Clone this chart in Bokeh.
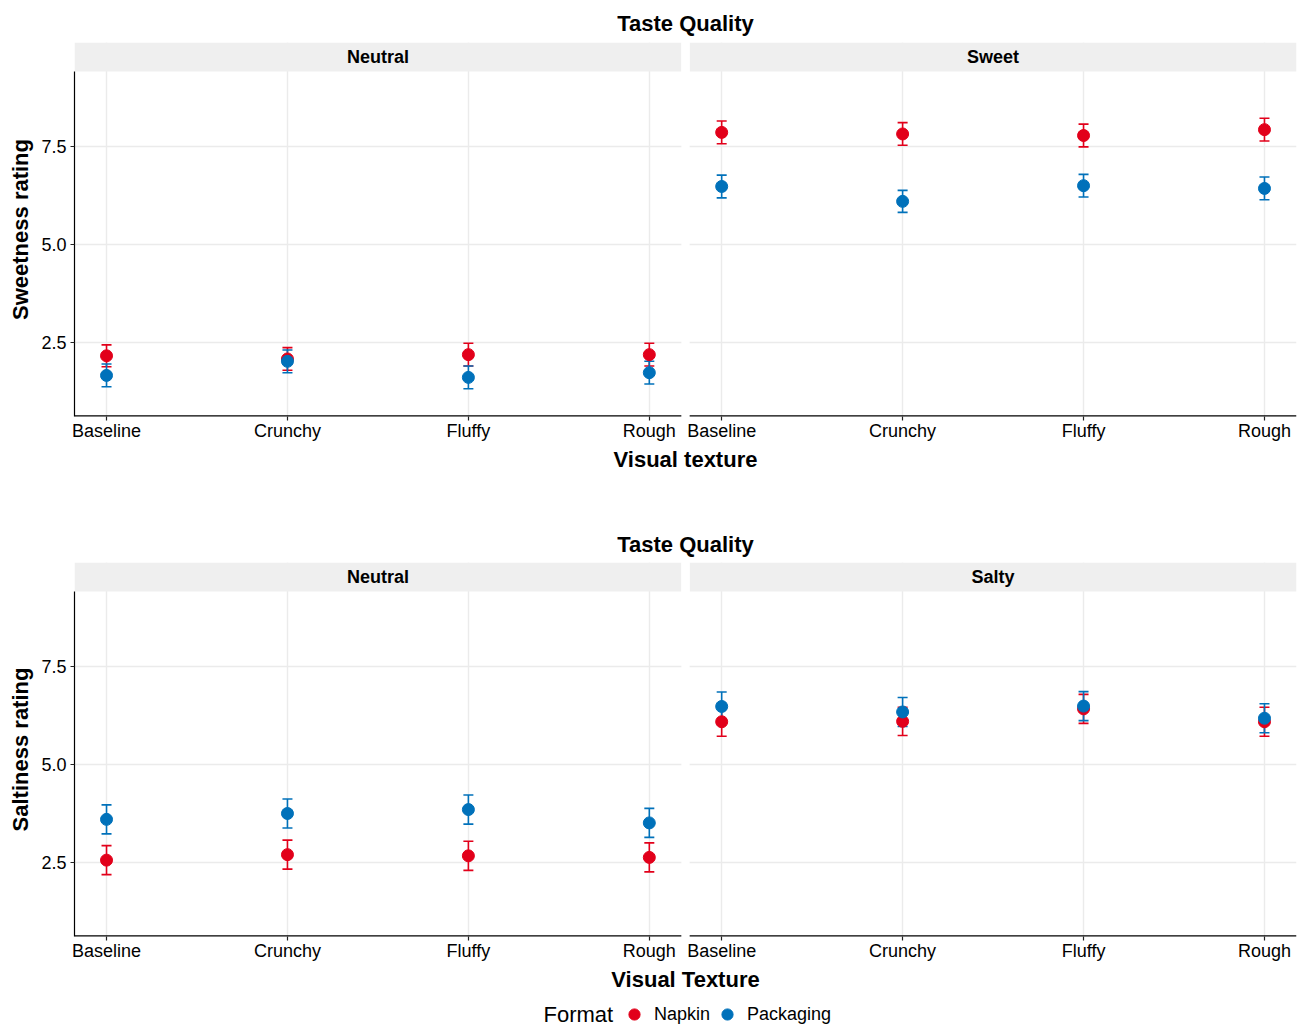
from bokeh.plotting import figure
from bokeh.models import (Range1d, FixedTicker, PrintfTickFormatter, Whisker, TeeHead,
                          ColumnDataSource, Legend, LegendItem)
from bokeh.layouts import column
from bokeh.embed import file_html
from bokeh.resources import INLINE
from bokeh.core.properties import value

# ---------------- data ----------------
textures = ["Baseline", "Crunchy", "Fluffy", "Rough"]
formats = ["Napkin", "Packaging"]

# Sweetness study (panels: Neutral, Sweet)
sweet_neutral_napkin = [2.16, 2.08, 2.19, 2.19]
sweet_neutral_napkin_se = [0.28, 0.29, 0.29, 0.29]
sweet_neutral_packaging = [1.66, 2.02, 1.61, 1.73]
sweet_neutral_packaging_se = [0.29, 0.29, 0.29, 0.29]
sweet_sweet_napkin = [7.86, 7.82, 7.78, 7.93]
sweet_sweet_napkin_se = [0.29, 0.29, 0.29, 0.29]
sweet_sweet_packaging = [6.48, 6.10, 6.50, 6.43]
sweet_sweet_packaging_se = [0.29, 0.28, 0.29, 0.29]

# Saltiness study (panels: Neutral, Salty)
salt_neutral_napkin = [2.56, 2.70, 2.67, 2.63]
salt_neutral_napkin_se = [0.37, 0.37, 0.37, 0.37]
salt_neutral_packaging = [3.60, 3.75, 3.85, 3.51]
salt_neutral_packaging_se = [0.37, 0.37, 0.37, 0.37]
salt_salty_napkin = [6.09, 6.10, 6.42, 6.09]
salt_salty_napkin_se = [0.37, 0.36, 0.37, 0.37]
salt_salty_packaging = [6.48, 6.34, 6.49, 6.18]
salt_salty_packaging_se = [0.37, 0.37, 0.37, 0.37]

y_ticks = [2.5, 5.0, 7.5]

# ---------------- style ----------------
RED = "#E2001A"
BLUE = "#0071BA"
FONT = "Liberation Sans"
GRID = "#EBEBEB"
STRIP = "#EFEFEF"
W = 1303
BORDER_L, BORDER_R = 74, 7

PAD = 0.177          # empty space left/right of the outer categories (category units)
OFFSET = 3.4         # start of the right panel (category units)
Y0, Y_PANEL_TOP, Y1 = 0.612, 9.413, 10.153   # y extent; above Y_PANEL_TOP is the facet strip

left_pos = [float(i) for i in range(len(textures))]
right_pos = [OFFSET + i for i in range(len(textures))]


def add_series(p, xs, vals, se, color):
    src = ColumnDataSource(dict(x=xs, y=vals,
                                lo=[v - s for v, s in zip(vals, se)],
                                hi=[v + s for v, s in zip(vals, se)]))
    w = Whisker(source=src, base="x", lower="lo", upper="hi", line_color=color, line_width=1.6,
                upper_head=TeeHead(size=10, line_color=color, line_width=1.6),
                lower_head=TeeHead(size=10, line_color=color, line_width=1.6))
    p.add_layout(w)
    return src


def make_row(height, top_border, bottom_border, title_standoff, ylabel, xlabel, names, panels):
    p = figure(width=W, height=height,
               x_range=Range1d(-PAD, OFFSET + 3 + PAD), y_range=Range1d(Y0, Y1),
               output_backend="svg", toolbar_location=None,
               min_border_left=BORDER_L, min_border_right=BORDER_R,
               min_border_top=top_border, min_border_bottom=bottom_border,
               title="Taste Quality")
    p.outline_line_color = None
    p.background_fill_color = "white"
    p.border_fill_color = "white"

    p.title.align = "center"
    p.title.text_font = FONT
    p.title.text_font_size = "22px"
    p.title.text_font_style = "bold"
    p.title.text_color = "black"
    p.title.standoff = title_standoff

    ticks = left_pos + right_pos
    p.xaxis.ticker = FixedTicker(ticks=ticks)
    p.xaxis.major_label_overrides = {t: lab for t, lab in zip(ticks, textures + textures)}
    p.xaxis.minor_tick_line_color = None
    p.xaxis.axis_line_color = None
    p.xaxis.major_tick_out = 4
    p.xaxis.major_tick_in = 0
    p.xaxis.major_tick_line_color = "#222222"
    p.xaxis.major_tick_line_width = 1.2
    p.xaxis.major_label_standoff = 0
    p.xaxis.major_label_text_font = FONT
    p.xaxis.major_label_text_font_size = "18px"
    p.xaxis.major_label_text_color = "black"
    p.xaxis.axis_label = xlabel
    p.xaxis.axis_label_text_font = FONT
    p.xaxis.axis_label_text_font_size = "22px"
    p.xaxis.axis_label_text_font_style = "bold"
    p.xaxis.axis_label_text_color = "black"
    p.xaxis.axis_label_standoff = 3

    p.yaxis.ticker = FixedTicker(ticks=y_ticks)
    p.yaxis.formatter = PrintfTickFormatter(format="%.1f")
    p.yaxis.bounds = (Y0, Y_PANEL_TOP)
    p.yaxis.minor_tick_line_color = None
    p.yaxis.axis_line_color = "black"
    p.yaxis.axis_line_width = 1.2
    p.yaxis.major_tick_out = 4
    p.yaxis.major_tick_in = 0
    p.yaxis.major_tick_line_color = "#222222"
    p.yaxis.major_tick_line_width = 1.2
    p.yaxis.major_label_standoff = 4
    p.yaxis.major_label_text_font = FONT
    p.yaxis.major_label_text_font_size = "18px"
    p.yaxis.major_label_text_color = "black"
    p.yaxis.axis_label = ylabel
    p.yaxis.axis_label_text_font = FONT
    p.yaxis.axis_label_text_font_size = "22px"
    p.yaxis.axis_label_text_font_style = "bold"
    p.yaxis.axis_label_text_color = "black"
    p.yaxis.axis_label_standoff = 5

    p.xgrid.ticker = FixedTicker(ticks=ticks)
    p.ygrid.ticker = FixedTicker(ticks=y_ticks)
    p.grid.grid_line_color = GRID
    p.grid.grid_line_width = 1.4

    # facet strips (cover the vertical grid lines above the panels)
    p.quad(left=[-PAD, OFFSET - PAD], right=[3 + PAD, OFFSET + 3 + PAD],
           bottom=[Y_PANEL_TOP, Y_PANEL_TOP], top=[Y1, Y1],
           fill_color=STRIP, line_color=None)
    # white gap between the two panels
    p.quad(left=[3 + PAD], right=[OFFSET - PAD], bottom=[Y0], top=[Y1],
           fill_color="white", line_color=None)
    p.text(x=[1.5, OFFSET + 1.5], y=[(Y_PANEL_TOP + Y1) / 2] * 2, text=names,
           text_font=value(FONT), text_font_style="bold", text_font_size="18px",
           text_align="center", text_baseline="middle", text_color="black")
    # per-panel x axis lines
    p.segment(x0=[-PAD, OFFSET - PAD], x1=[3 + PAD, OFFSET + 3 + PAD], y0=[Y0, Y0], y1=[Y0, Y0],
              line_color="black", line_width=2.4)

    srcs = []
    for xs, (nap, nap_se, pac, pac_se) in zip([left_pos, right_pos], panels):
        s1 = add_series(p, xs, nap, nap_se, RED)
        s2 = add_series(p, xs, pac, pac_se, BLUE)
        srcs.append((s1, s2))
    for s1, s2 in srcs:
        p.scatter("x", "y", source=s1, size=12, fill_color=RED, line_color=RED)
        p.scatter("x", "y", source=s2, size=12, fill_color=BLUE, line_color=BLUE)
    return p


p1 = make_row(500, 42, 84, 13, "Sweetness rating", "Visual texture", ["Neutral", "Sweet"],
              [(sweet_neutral_napkin, sweet_neutral_napkin_se, sweet_neutral_packaging, sweet_neutral_packaging_se),
               (sweet_sweet_napkin, sweet_sweet_napkin_se, sweet_sweet_packaging, sweet_sweet_packaging_se)])
p2 = make_row(494, 62, 58, 11, "Saltiness rating", "Visual Texture", ["Neutral", "Salty"],
              [(salt_neutral_napkin, salt_neutral_napkin_se, salt_neutral_packaging, salt_neutral_packaging_se),
               (salt_salty_napkin, salt_salty_napkin_se, salt_salty_packaging, salt_salty_packaging_se)])

# legend strip (x in page pixels, y from the bottom of the strip)
LH = 35
lg = figure(width=W, height=LH, x_range=Range1d(BORDER_L, W - BORDER_R), y_range=Range1d(0, LH),
            output_backend="svg", toolbar_location=None,
            min_border_left=BORDER_L, min_border_right=BORDER_R, min_border_top=0, min_border_bottom=0)
lg.axis.visible = False
lg.grid.visible = False
lg.outline_line_color = None
# hidden renderers that only provide the legend keys
r1 = lg.scatter(x=left_pos, y=salt_neutral_napkin, size=12, fill_color=RED, line_color=RED, visible=False)
r2 = lg.scatter(x=left_pos, y=salt_neutral_packaging, size=12, fill_color=BLUE, line_color=BLUE, visible=False)
lg.text(x=[543], y=[15], text=["Format"], text_font=value(FONT), text_font_size="22px",
        text_align="left", text_baseline="middle", text_color="black")
legend = Legend(items=[LegendItem(label=formats[0], renderers=[r1]),
                       LegendItem(label=formats[1], renderers=[r2])],
                orientation="horizontal", location=(620 - BORDER_L, 1),
                glyph_width=28, glyph_height=28, label_standoff=6, spacing=3,
                padding=0, margin=0, background_fill_alpha=0, border_line_color=None,
                label_text_font=FONT, label_text_font_size="18px", label_text_color="black",
                label_height=20)
lg.add_layout(legend)

layout = column(p1, p2, lg, spacing=0)
open("out.html", "w").write(file_html(layout, INLINE))
